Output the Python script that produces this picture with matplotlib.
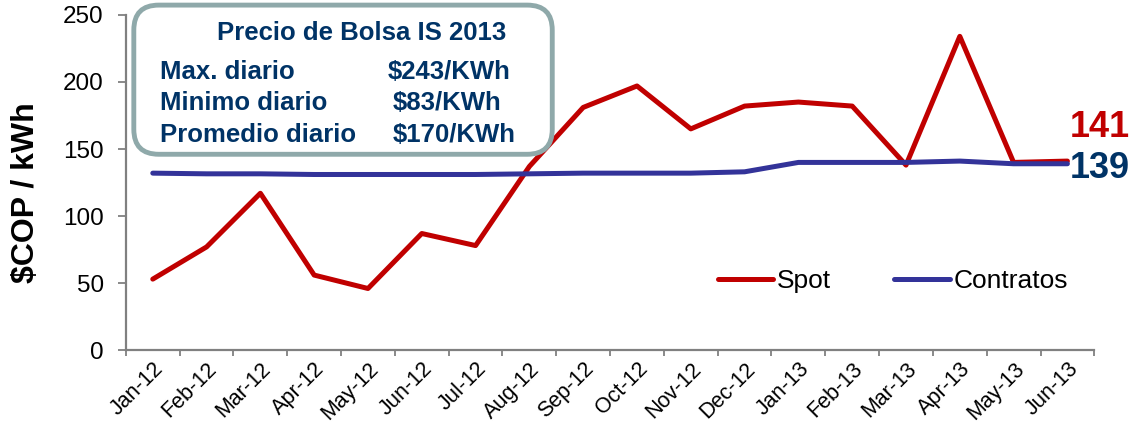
import matplotlib.pyplot as plt
from matplotlib.patches import FancyBboxPatch

plt.rcParams['font.family'] = ['Liberation Sans', 'DejaVu Sans']

# data
months = ['Jan-12', 'Feb-12', 'Mar-12', 'Apr-12', 'May-12', 'Jun-12', 'Jul-12', 'Aug-12', 'Sep-12',
          'Oct-12', 'Nov-12', 'Dec-12', 'Jan-13', 'Feb-13', 'Mar-13', 'Apr-13', 'May-13', 'Jun-13']
spot = [53, 77, 117, 56, 46, 87, 78, 137, 181, 197, 165, 182, 185, 182, 138, 234, 140, 141]
contratos = [132, 131.5, 131.5, 131, 131, 131, 131, 131.5, 132, 132, 132, 133,
             140, 140, 140, 141, 139, 139]

red = '#C00000'
blue = '#333399'
navy = '#003366'

fig = plt.figure(figsize=(11.34, 4.25), dpi=100)
ax = fig.add_axes([0.111, 0.176, 0.854, 0.789])

x = list(range(len(months)))
ax.plot(x, spot, color=red, lw=3.6, label='Spot', solid_capstyle='round')
ax.plot(x, contratos, color=blue, lw=3.6, label='Contratos', solid_capstyle='round')

ax.set_xlim(-0.5, len(months) - 0.5)
ax.set_ylim(0, 250)
ax.set_yticks([0, 50, 100, 150, 200, 250])
ax.set_xticks(x)
ax.set_xticklabels(months, rotation=45, ha='right', rotation_mode='anchor', fontsize=15.5)
ax.set_xticks([i - 0.5 for i in range(len(months) + 1)], minor=True)
ax.tick_params(axis='x', which='major', length=0, pad=6)
ax.tick_params(axis='x', which='minor', length=4, color='#808080', width=1.3)
ax.tick_params(axis='y', labelsize=17.5, length=6, color='#808080', width=1.3, pad=10)
for s in ['top', 'right']:
    ax.spines[s].set_visible(False)
for s in ['left', 'bottom']:
    ax.spines[s].set_color('#808080')
    ax.spines[s].set_linewidth(1.6)

ax.set_ylabel('$COP / kWh', fontsize=23, fontweight='bold')
ax.yaxis.set_label_coords(-0.088, 0.47)

# end labels
ax.annotate(str(spot[-1]), xy=(x[-1], spot[-1]), xytext=(2, 17), textcoords='offset points',
            color=red, fontsize=26, fontweight='bold', va='baseline', annotation_clip=False)
ax.annotate(str(contratos[-1]), xy=(x[-1], contratos[-1]), xytext=(2, -10), textcoords='offset points',
            color=navy, fontsize=26, fontweight='bold', va='baseline', annotation_clip=False)

ax.legend(loc='center left', bbox_to_anchor=(0.611, 0.206), ncol=2, frameon=False,
          fontsize=19, handlelength=2.1, handletextpad=0.15, columnspacing=2.4,
          borderpad=0, borderaxespad=0)

# info box
box = FancyBboxPatch((0.118, 0.637), 0.369, 0.351, boxstyle='round,pad=0,rounding_size=0.022',
                     transform=fig.transFigure, facecolor='white', edgecolor='#8FA9AA',
                     linewidth=3.5, mutation_aspect=2.67, zorder=5)
fig.patches.append(box)
fig.text(0.319, 0.922, 'Precio de Bolsa IS 2013', color=navy, fontsize=18.5, fontweight='bold',
         ha='center', va='center', zorder=6)
rows = [('Max. diario', '$243/KWh'), ('Minimo diario', '$83/KWh'), ('Promedio diario', '$170/KWh')]
for i, (k, v) in enumerate(rows):
    yy = 0.831 - i * 0.0745
    fig.text(0.141, yy, k, color=navy, fontsize=18.5, fontweight='bold', va='center', zorder=6)
    fig.text(0.342 if i == 0 else 0.346, yy, v, color=navy, fontsize=18.5, fontweight='bold',
             va='center', zorder=6)

plt.savefig('out.png', dpi=100)
